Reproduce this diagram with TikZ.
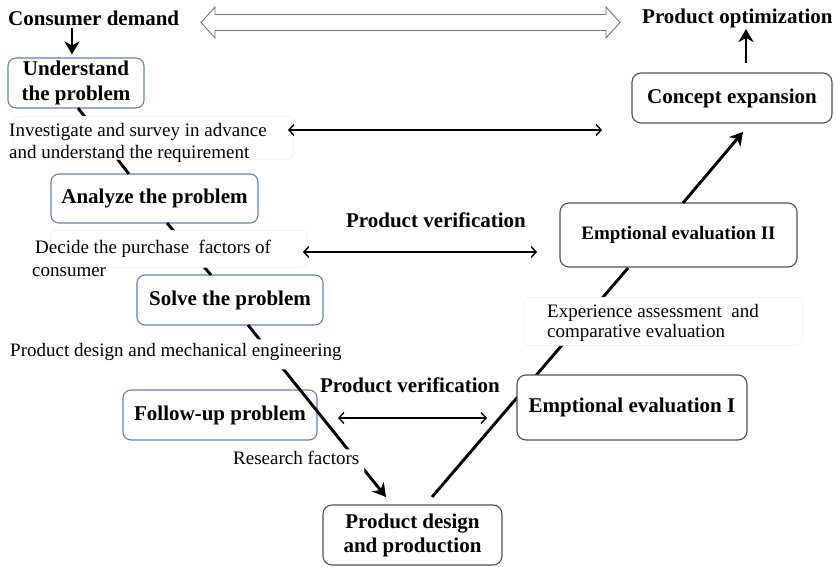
\documentclass[tikz,border=0pt]{standalone}
\usepackage{fontspec}
\setmainfont{Liberation Serif}
\usetikzlibrary{arrows.meta}
\definecolor{boxblue}{RGB}{95,128,185}
\definecolor{boxgray}{RGB}{80,80,80}
\definecolor{faint}{RGB}{240,240,240}
\begin{document}
\begin{tikzpicture}[x=1pt,y=-1pt,
  bluebox/.style={draw=boxblue, line width=1.1pt, rounded corners=8pt, fill=white, inner sep=0pt,
    font=\fontsize{21}{25}\selectfont\bfseries, align=center},
  graybox/.style={draw=boxgray, line width=1.1pt, rounded corners=9pt, fill=white, inner sep=0pt,
    font=\fontsize{21}{24}\selectfont\bfseries, align=center},
  bgbox/.style={draw=faint, line width=0.6pt, rounded corners=6pt, fill=white},
  lbl/.style={font=\fontsize{19}{22}\selectfont, inner sep=0pt, align=left, anchor=west},
  ttl/.style={font=\fontsize{21}{24}\selectfont\bfseries, inner sep=0pt},
  flow/.style={line width=2.9pt},
  flowarrow/.style={line width=2.9pt, -{Stealth[length=13pt,width=15pt,inset=4pt]}},
  verif/.style={line width=1.4pt, {Straight Barb[length=5pt,width=11pt]}-{Straight Barb[length=5pt,width=11pt]}},
]
\useasboundingbox (0,0) rectangle (836,567);

% titles
\node[ttl, anchor=west] (cd) at (8,18) {Consumer demand};
\node[ttl, anchor=west] (po) at (642,18) {Product optimization};
\draw[draw=black!55, line width=0.9pt, fill=white]
  (201,22.5) -- (215,7) -- (215,14.5) -- (606,14.5) -- (606,7) -- (620,22.5)
  -- (606,38) -- (606,30.5) -- (215,30.5) -- (215,38) -- cycle;

% right ascending line (under the boxes)
\coordinate (r1) at (432,497);
\coordinate (r2) at (628,268);
\draw[flow] (r1) -- (r2);

% boxes
\node[bluebox, minimum width=136, minimum height=50] (und) at (76,83) {Understand\\the problem};
\node[bluebox, minimum width=207, minimum height=49] (ana) at (154.5,198.5) {Analyze the problem};
\node[bluebox, minimum width=186, minimum height=50] (sol) at (230,300) {Solve the problem};
\node[bluebox, minimum width=194, minimum height=50] (fol) at (220,415) {Follow-up problem};
\node[graybox, minimum width=179, minimum height=60] (pd) at (412.5,535) {Product design\\and production};
\node[graybox, minimum width=230, minimum height=65] (emo1) at (632,407.5) {Emptional evaluation I};
\node[graybox, minimum width=237, minimum height=64, font=\fontsize{19}{22}\selectfont\bfseries] (emo2) at (678.5,235) {Emptional evaluation II};
\node[graybox, minimum width=200, minimum height=50] (con) at (732,98) {Concept expansion};

% top arrows
\coordinate (a1) at (72,28);
\draw[flowarrow, shorten >=3pt] (a1) -- (a1 |- und.north);
\coordinate (o1) at (746,29);
\draw[flowarrow, shorten <=9pt] (o1 |- con.north) -- (o1);
\coordinate (e2t) at (683,203);
\coordinate (cb) at (743,132);
\draw[flowarrow] (e2t) -- (cb);

% left descending line
\coordinate (l1a) at (78,108);
\coordinate (l1b) at (129,174);
\draw[flow] (l1a) -- (l1b);
\coordinate (l2a) at (167,223);
\coordinate (l2b) at (211,275);
\draw[flow] (l2a) -- (l2b);
\coordinate (l3a) at (248,325);
\coordinate (l3b) at (386,497);
\draw[flowarrow] (l3a) -- (l3b);

% label backgrounds and labels
\node[bgbox, minimum width=280, minimum height=43, anchor=north west, inner sep=0pt] (invbg) at (13,116) {};
\node[lbl] (inv) at (9,143) {Investigate and survey in advance\\and understand the requirement};
\node[bgbox, minimum width=257, minimum height=37, anchor=north west, inner sep=0pt] (decbg) at (50,230) {};
\node[lbl, font=\fontsize{19}{23}\selectfont] (dec) at (32,258.5) {\hspace*{3pt}Decide the purchase\ \ factors of\\consumer};
\node[bgbox, draw=none, minimum width=340, minimum height=30, anchor=north west, inner sep=0pt] (pdmbg) at (5,339) {};
\node[lbl] (pdm) at (10,352) {Product design and mechanical engineering};
\node[bgbox, draw=none, minimum width=138, minimum height=32, anchor=north west, inner sep=0pt] (rfbg) at (226,449) {};
\node[lbl] (rf) at (233,458) {Research factors};
\node[bgbox, minimum width=279, minimum height=48, anchor=north west, inner sep=0pt] (expbg) at (523,297) {};
\node[lbl, font=\fontsize{19}{20.5}\selectfont] (exp) at (547,323) {Experience assessment\ \ and\\comparative evaluation};

% verification
\node[ttl] (pv1) at (436,220) {Product verification};
\node[ttl] (pv2) at (410,385) {Product verification};
\coordinate (v1a) at (288,130);
\coordinate (v1b) at (602,130);
\draw[verif] (v1a) -- (v1b);
\coordinate (v2a) at (303,252);
\coordinate (v2b) at (537,252);
\draw[verif] (v2a) -- (v2b);
\coordinate (v3a) at (338,418);
\coordinate (v3b) at (487,418);
\draw[verif] (v3a) -- (v3b);
\end{tikzpicture}
\end{document}
